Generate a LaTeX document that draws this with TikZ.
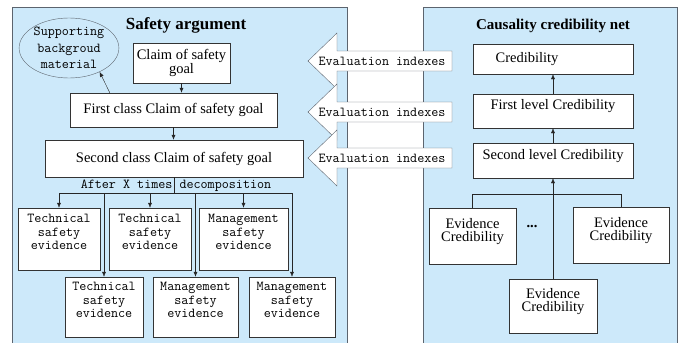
\documentclass[tikz,border=0pt]{standalone}
\usepackage{fontspec}
\setmainfont{Liberation Serif}
\usepackage{tikz}
\usetikzlibrary{shapes.geometric, arrows.meta, positioning, calc}
\definecolor{panelblue}{RGB}{205,233,250}
\definecolor{edgegray}{RGB}{92,100,110}
\newcommand{\serifsize}{\fontsize{14.5}{13}\selectfont}
\newcommand{\monosize}{\ttfamily\fontsize{13.7}{13.5}\selectfont}
\tikzset{
  panel/.style={draw=edgegray, fill=panelblue, line width=0.9pt},
  claimbox/.style={draw=black!80, fill=white, align=center, inner sep=1pt, font=\serifsize},
  evidbox/.style={draw=black!80, fill=white, align=center, inner sep=1pt, font=\monosize},
  credbox/.style={draw=black!80, fill=white, align=center, inner sep=1pt, minimum width=160pt, font=\serifsize},
  link/.style={-{Latex[length=5pt,width=4pt]}, black!85},
  evaltext/.style={font=\monosize, inner sep=0pt},
}

\begin{document}
\begin{tikzpicture}[x=1pt, y=-1pt]
  \useasboundingbox (0,0) rectangle (678,343);

  % Panels
  \filldraw[panel] (12,7) rectangle (347,346);
  \filldraw[panel] (423,7) rectangle (677,346);

  % Titles
  \node[font=\bfseries\fontsize{17}{20}\selectfont] (safetitle) at (186,25) {Safety argument};
  \node[font=\bfseries\fontsize{15}{18}\selectfont] (nettitle) at (553,26) {Causality credibility net};

  % Safety argument claims
  \node[claimbox, minimum width=97pt, minimum height=40pt] (goal) at (181.5,63) {Claim of safety\\goal};
  \node[claimbox, minimum width=207pt, minimum height=34pt] (firstclaim) at (173.5,110) {First class Claim of safety goal};
  \node[claimbox, minimum width=258pt, minimum height=37pt] (secondclaim) at (174,158.5) {Second class Claim of safety goal};
  \node[ellipse, draw=edgegray, minimum width=96pt, minimum height=60pt, inner sep=0pt, align=center,
        font=\ttfamily\fontsize{13.7}{16.5}\selectfont] (support) at (69,48) {Supporting\\backgroud\\material};

  \draw[link] (goal.south) -- (goal.south |- firstclaim.north);
  \draw[link] ([xshift=40pt]firstclaim.north west) -- (support.-38);
  \draw[link] (firstclaim.south) -- (firstclaim.south |- secondclaim.north);

  % Safety evidence
  \node[evidbox, minimum width=82pt, minimum height=62pt] (tech1) at (59,239) {Technical\\safety\\evidence\\};
  \node[evidbox, minimum width=82pt, minimum height=62pt] (tech2) at (150,239) {Technical\\safety\\evidence\\};
  \node[evidbox, minimum width=89pt, minimum height=62pt] (mgmt1) at (243.5,239) {Management\\safety\\evidence\\};
  \node[evidbox, minimum width=78pt, minimum height=60pt] (tech3) at (104,307) {Technical\\safety\\evidence\\};
  \node[evidbox, minimum width=85pt, minimum height=60pt] (mgmt2) at (195.5,307) {Management\\safety\\evidence\\};
  \node[evidbox, minimum width=86pt, minimum height=60pt] (mgmt3) at (292,307) {Management\\safety\\evidence\\};

  % Decomposition
  \node[font=\monosize, inner sep=0pt] (decomp) at (176,186) {After X times decomposition};
  \coordinate (split) at ([yshift=-16pt]secondclaim.south);
  \draw[black!85] (secondclaim.south) -- (split);
  \draw[black!85] (tech1.north |- split) -- (mgmt3.north |- split);
  \foreach \b in {tech1,tech2,mgmt1,tech3,mgmt2,mgmt3}
    \draw[link] (\b.north |- split) -- (\b.north);

  % Causality credibility net
  \node[credbox, minimum height=30pt] (cred) at (553,59) {Credibility\hspace{52pt}};
  \node[credbox, minimum height=34pt] (firstcred) at (553,111) {First level Credibility\\};
  \node[credbox, minimum height=35pt] (secondcred) at (553,160.5) {Second level Credibility\\};
  \node[credbox, minimum width=87pt, minimum height=56pt] (evleft) at (472.5,236) {Evidence\\Credibility\\};
  \node[credbox, minimum width=96pt, minimum height=56pt] (evright) at (621,235) {Evidence\\Credibility\\};
  \node[credbox, minimum width=88pt, minimum height=54pt] (evmid) at (553,306) {Evidence\\Credibility\\};
  \node[font=\bfseries\serifsize] (dots) at (532,227) {...};

  \draw[link] (secondcred) -- (firstcred);
  \draw[link] (firstcred) -- (cred);
  \coordinate (join) at ([yshift=-16pt]secondcred.south);
  \draw[black!85] (evleft.north) |- (join) -| (evright.north);
  \draw[link] (evmid.north) -- (secondcred.south);

  % Evaluation indexes arrows
  \foreach \y/\n in {61/evalA,112/evalB,158/evalC} {
    \filldraw[draw=edgegray, fill=white] (308,\y) -- (337,\y-28) -- (337,\y-10) -- (452,\y-10)
      -- (452,\y+10) -- (337,\y+10) -- (337,\y+28) -- cycle;
    \node[evaltext] (\n) at (382,\y) {Evaluation indexes};
  }
\end{tikzpicture}
\end{document}
